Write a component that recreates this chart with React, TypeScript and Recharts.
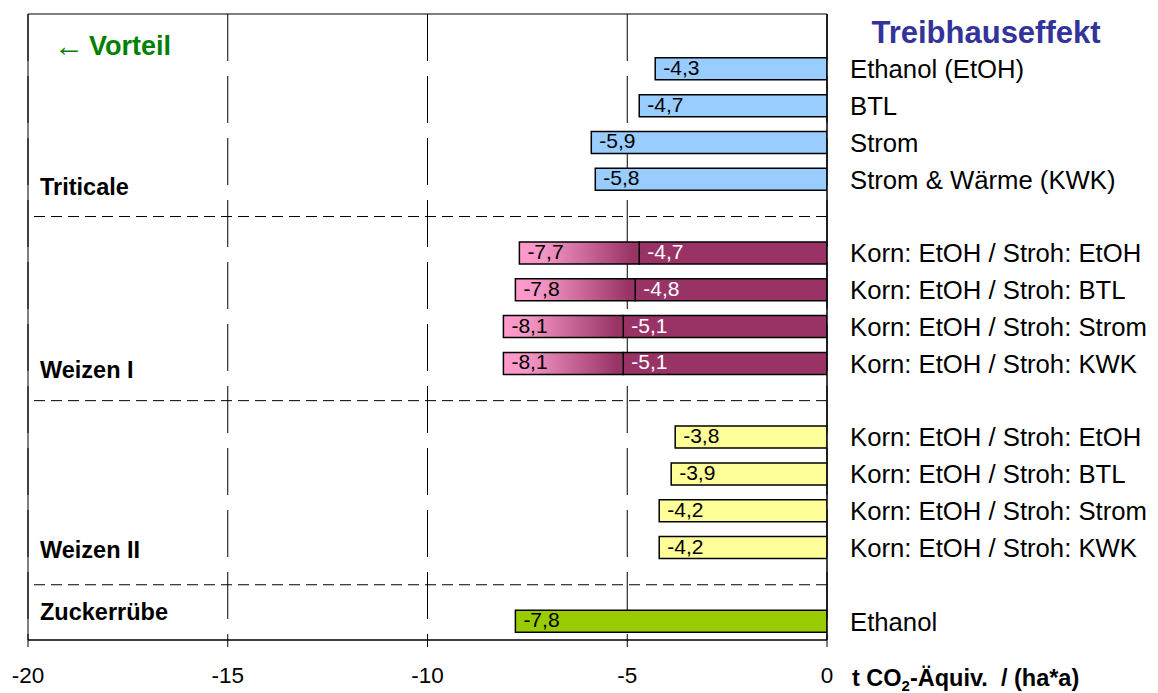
import React from "react";
import {
  BarChart,
  Bar,
  XAxis,
  YAxis,
  CartesianGrid,
  ReferenceLine,
  ReferenceArea,
  LabelList,
  Cell,
} from "recharts";

// rows top to bottom; empty rows hold the title space and the group separators
const rowIds = ["r0", "r1", "r2", "r3", "r4", "r5", "r6", "r7", "r8", "r9", "r10", "r11", "r12", "r13", "r14", "r15", "r16"];
const rowLabels = [
  "",
  "Ethanol (EtOH)",
  "BTL",
  "Strom",
  "Strom & Wärme (KWK)",
  "",
  "Korn: EtOH / Stroh: EtOH",
  "Korn: EtOH / Stroh: BTL",
  "Korn: EtOH / Stroh: Strom",
  "Korn: EtOH / Stroh: KWK",
  "",
  "Korn: EtOH / Stroh: EtOH",
  "Korn: EtOH / Stroh: BTL",
  "Korn: EtOH / Stroh: Strom",
  "Korn: EtOH / Stroh: KWK",
  "",
  "Ethanol",
];
const separatorRows = ["r5", "r10", "r15"];

const triticale = [-4.3, -4.7, -5.9, -5.8];
const weizenITotal = [-7.7, -7.8, -8.1, -8.1];
const weizenIStroh = [-4.7, -4.8, -5.1, -5.1];
const weizenII = [-3.8, -3.9, -4.2, -4.2];
const zuckerruebe = [-7.8];

const xTicks = [-20, -15, -10, -5, 0];

const BLUE = "#99CCFF";
const YELLOW = "#FFFF99";
const GREEN = "#99CC00";
const MAROON = "#993366";
const PINK = "#FF99CC";

type Row = {
  id: string;
  main: number | null;
  inner: number | null;
  outer: number | null;
  outerTotal: number | null;
  color: string;
};

const empty = (i: number): Row => ({ id: rowIds[i], main: null, inner: null, outer: null, outerTotal: null, color: "none" });

const data: Row[] = rowIds.map((_, i) => empty(i));
triticale.forEach((v, k) => {
  data[1 + k] = { ...empty(1 + k), main: v, color: BLUE };
});
weizenITotal.forEach((v, k) => {
  const s = weizenIStroh[k];
  data[6 + k] = { ...empty(6 + k), inner: s, outer: +(v - s).toFixed(2), outerTotal: v };
});
weizenII.forEach((v, k) => {
  data[11 + k] = { ...empty(11 + k), main: v, color: YELLOW };
});
zuckerruebe.forEach((v, k) => {
  data[16 + k] = { ...empty(16 + k), main: v, color: GREEN };
});

const fmt = (v: number) => v.toFixed(1).replace(".", ",");

const FONT = "'Liberation Sans', Arial, sans-serif";

const barLabel = (fill: string) => (props: any) => {
  const { x, y, width, height, value } = props;
  if (value === null || value === undefined || value === 0 || typeof value !== "number") return null;
  const left = Math.min(x, x + width);
  return (
    <text x={left + 8} y={y + height / 2 + 6} fill={fill} fontSize={21} fontFamily={FONT}>
      {fmt(value)}
    </text>
  );
};

const RightTick = (props: any) => {
  const { x, y, index } = props;
  return (
    <text x={x + 23} y={y + 9} fontSize={25.7} fontFamily={FONT} fill="#000">
      {rowLabels[index]}
    </text>
  );
};

const BottomTick = (props: any) => {
  const { x, y, payload } = props;
  return (
    <text x={x} y={y + 34} textAnchor="middle" fontSize={22.5} fontFamily={FONT} fill="#000">
      {payload.value}
    </text>
  );
};

export default function App() {
  // container sits inside the 8px body margin; overlay coordinates are page minus 8
  const W = 1142;
  const H = 685;
  return (
    <div style={{ position: "relative", width: W, height: H, fontFamily: FONT }}>
      <BarChart
        width={W}
        height={H}
        data={data}
        layout="vertical"
        margin={{ top: 6, right: 11, left: 20, bottom: 13 }}
        barSize={22}
      >
        <defs>
          <linearGradient id="weizenGrad" x1="0" y1="0" x2="1" y2="0">
            <stop offset="0" stopColor={PINK} />
            <stop offset="0.2" stopColor="#F597C6" />
            <stop offset="0.95" stopColor={MAROON} />
            <stop offset="1" stopColor={MAROON} />
          </linearGradient>
        </defs>
        <CartesianGrid horizontal={false} stroke="#000" strokeDasharray="47 15" />
        <XAxis
          type="number"
          domain={[-20, 0]}
          ticks={xTicks}
          height={40}
          tick={BottomTick}
          tickSize={7}
          tickLine={{ stroke: "#000" }}
          axisLine={{ stroke: "#000" }}
          allowDataOverflow
        />
        <YAxis
          type="category"
          dataKey="id"
          orientation="right"
          width={312}
          interval={0}
          tickSize={0}
          tickMargin={0}
          tick={RightTick}
          axisLine={{ stroke: "#000" }}
        />
        {separatorRows.map((r) => (
          <ReferenceLine key={r} y={r} stroke="#000" strokeDasharray="11 6" />
        ))}
        <Bar dataKey="main" stackId="s" stroke="#000" strokeWidth={1.5} isAnimationActive={false}>
          {data.map((d, i) => (
            <Cell key={`m-${i}`} fill={d.color} stroke={d.main === null ? "none" : "#000"} />
          ))}
          <LabelList dataKey="main" content={barLabel("#000")} />
        </Bar>
        <Bar dataKey="inner" stackId="s" fill={MAROON} stroke="#000" strokeWidth={1.5} isAnimationActive={false}>
          {data.map((d, i) => (
            <Cell key={`i-${i}`} stroke={d.inner === null ? "none" : "#000"} />
          ))}
          <LabelList dataKey="inner" content={barLabel("#fff")} />
        </Bar>
        <Bar dataKey="outer" stackId="s" fill="url(#weizenGrad)" stroke="#000" strokeWidth={1.5} isAnimationActive={false}>
          {data.map((d, i) => (
            <Cell key={`o-${i}`} stroke={d.outer === null ? "none" : "#000"} />
          ))}
          <LabelList dataKey="outerTotal" content={barLabel("#000")} />
        </Bar>
        <ReferenceArea x1={-20} x2={0} fill="none" stroke="#000" strokeWidth={1} ifOverflow="visible" />
      </BarChart>
      <svg width={W} height={H} style={{ position: "absolute", left: 0, top: 0, pointerEvents: "none" }}>
        <text x={978} y={35} textAnchor="middle" fontSize={31} fontWeight="bold" fill="#333399" fontFamily={FONT}>
          Treibhauseffekt
        </text>
        <text x={46} y={48} fontSize={30} fill="#008000" fontFamily={FONT}>
          ←
        </text>
        <text x={81} y={47} fontSize={27} fontWeight="bold" fill="#008000" fontFamily={FONT}>
          Vorteil
        </text>
        <text x={32} y={187} fontSize={23.5} fontWeight="bold" fontFamily={FONT}>Triticale</text>
        <text x={32} y={370} fontSize={23.5} fontWeight="bold" fontFamily={FONT}>Weizen I</text>
        <text x={32} y={550} fontSize={23.5} fontWeight="bold" fontFamily={FONT}>Weizen II</text>
        <text x={32} y={612} fontSize={23.5} fontWeight="bold" fontFamily={FONT}>Zuckerrübe</text>
        <text x={844} y={678} fontSize={23.5} fontWeight="bold" fontFamily={FONT}>
          t CO<tspan fontSize={15} dy={5}>2</tspan>
          <tspan dy={-5}>{"-Äquiv.\u00A0 / (ha*a)"}</tspan>
        </text>
      </svg>
    </div>
  );
}
